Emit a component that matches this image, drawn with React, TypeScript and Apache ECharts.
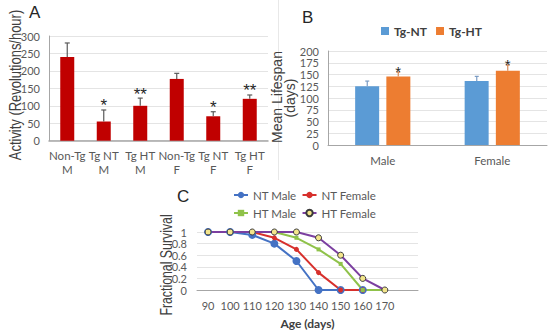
import React, { useEffect, useRef } from "react";
import * as echarts from "echarts";

// Panel A: activity
const activityCats = ["Non-Tg\nM", "Tg NT\nM", "Tg HT\nM", "Non-Tg\nF", "Tg NT\nF", "Tg HT\nF"];
const activityMean = [240, 55, 100, 177, 70, 120];
const activityUpper = [280, 88, 122, 193, 83, 131];
const activityStars = ["", "*", "**", "", "*", "**"];
const activityTicks = [0, 50, 100, 150, 200, 250, 300];

// Panel B: mean lifespan
const lifespanCats = ["Male", "Female"];
const lifespanNT = [125, 136];
const lifespanNTUpper = [136, 146];
const lifespanHT = [146, 158];
const lifespanHTUpper = [155, 170];
const lifespanNTStars = ["", ""];
const lifespanHTStars = ["*", "*"];

// Panel C: survival
const ageCats = ["90", "100", "110", "120", "130", "140", "150", "160", "170", ""];
const ntMale = [1, 1, 0.95, 0.8, 0.5, 0, 0, 0];
const ntFemale = [1, 1, 1, 0.9, 0.7, 0.3, 0, 0];
const htMale = [1, 1, 1, 1, 0.9, 0.7, 0.45, 0, 0];
const htFemale = [1, 1, 1, 1, 1, 0.9, 0.6, 0.2, 0];

const TICK = "#595959";
const GRID = "#e4e4e4";
const AXIS = "#a6a6a6";
const LABEL_FONT = "Lato";
const TITLE_FONT = "Liberation Sans";

function errorSeries(
  xAxisIndex: number,
  yAxisIndex: number,
  means: number[],
  uppers: number[],
  stars: string[],
  offset: number,
  color: string,
  capHalf: number,
  starSize: number,
  starDy: number
) {
  return {
    type: "custom",
    xAxisIndex,
    yAxisIndex,
    z: 5,
    silent: true,
    data: means.map((m, i) => [i, m, uppers[i]]),
    encode: { x: 0, y: [1, 2] },
    renderItem: (params: any, api: any) => {
      const i = api.value(0);
      const p0 = api.coord([i, api.value(1)]);
      const p1 = api.coord([i, api.value(2)]);
      const x = p0[0] + offset;
      const children: any[] = [
        { type: "line", shape: { x1: x, y1: p0[1], x2: x, y2: p1[1] }, style: { stroke: color, lineWidth: 1.2 } },
        { type: "line", shape: { x1: x - capHalf, y1: p1[1], x2: x + capHalf, y2: p1[1] }, style: { stroke: color, lineWidth: 1.2 } },
      ];
      const s = stars[params.dataIndex];
      if (s) {
        children.push({
          type: "text",
          x,
          y: p1[1] + starDy,
          style: {
            text: s,
            textAlign: "center",
            textVerticalAlign: "middle",
            align: "center",
            verticalAlign: "middle",
            font: `${starSize}px "${TITLE_FONT}"`,
            fill: "#262626",
          },
        });
      }
      return { type: "group", children };
    },
  };
}

function vText(text: string, x: number, y: number, size: number, scaleX: number) {
  return {
    type: "text",
    x,
    y,
    rotation: Math.PI / 2,
    scaleX,
    style: {
      text,
      font: `${size}px "${TITLE_FONT}"`,
      fill: "#404040",
      textAlign: "center",
      textVerticalAlign: "middle",
      align: "center",
      verticalAlign: "middle",
    },
  };
}

export default function App() {
  const ref = useRef<HTMLDivElement>(null);

  useEffect(() => {
    document.body.style.margin = "0";
    if (!ref.current) return;
    const chart = echarts.init(ref.current, undefined, { renderer: "svg" });

    const valueAxisBase = (gridIndex: number, max: number, interval: number, margin: number, fontSize: number) => ({
      type: "value",
      gridIndex,
      min: 0,
      max,
      interval,
      axisLine: { show: true, lineStyle: { color: AXIS, width: 1 } },
      axisTick: { show: false },
      axisLabel: {
        color: TICK,
        fontSize,
        lineHeight: 9,
        fontFamily: LABEL_FONT,
        margin,
        showMinLabel: true,
        showMaxLabel: true,
        hideOverlap: false,
      },
      splitLine: { show: true, lineStyle: { color: GRID, width: 1 } },
    });

    const legendC = (names: string[], top: number) => ({
      data: names,
      left: 228,
      top,
      itemWidth: 14,
      itemHeight: 8,
      itemGap: 5,
      textStyle: { color: TICK, fontSize: 11.5, fontFamily: LABEL_FONT },
    });

    const option: any = {
      animation: false,
      backgroundColor: "#ffffff",
      grid: [
        { left: 49, top: 36, width: 219, height: 104.7 },
        { left: 328, top: 51, width: 219, height: 94 },
        { left: 197, top: 232, width: 221, height: 58 },
      ],
      xAxis: [
        {
          type: "category",
          gridIndex: 0,
          data: activityCats,
          axisLine: { lineStyle: { color: AXIS, width: 1.5 } },
          axisTick: { show: false },
          axisLabel: { color: TICK, fontSize: 11.5, fontFamily: LABEL_FONT, lineHeight: 14, margin: 8, interval: 0 },
        },
        {
          type: "category",
          gridIndex: 1,
          data: lifespanCats,
          axisLine: { lineStyle: { color: AXIS, width: 1 } },
          axisTick: { show: false },
          axisLabel: { color: TICK, fontSize: 11.5, fontFamily: LABEL_FONT, margin: 9 },
        },
        {
          type: "category",
          gridIndex: 2,
          data: ageCats,
          boundaryGap: true,
          axisLine: { lineStyle: { color: AXIS, width: 1 } },
          axisTick: { show: false },
          axisLabel: { color: TICK, fontSize: 11, fontFamily: LABEL_FONT, margin: 10, interval: 0 },
          name: "Age (days)",
          nameLocation: "middle",
          nameGap: 27,
          nameTextStyle: { color: "#404040", fontSize: 12, fontWeight: "bold", fontFamily: LABEL_FONT },
        },
      ],
      yAxis: [
        {
          ...valueAxisBase(0, activityTicks[activityTicks.length - 1], activityTicks[1] - activityTicks[0], 9, 11),
        },
        { ...valueAxisBase(1, 200, 25, 9, 11) },
        {
          ...valueAxisBase(2, 1, 0.2, 10, 11),
          axisLine: { show: false },
        },
      ],
      legend: [
        {
          data: ["Tg-NT", "Tg-HT"],
          left: 376,
          top: 20,
          itemWidth: 8,
          itemHeight: 8,
          itemGap: 9,
          icon: "rect",
          textStyle: { color: "#404040", fontSize: 12, fontWeight: "bold", fontFamily: LABEL_FONT },
        },
        legendC(["NT Male", "NT Female"], 184),
        legendC(["HT Male", "HT Female"], 202),
      ],
      graphic: [
        { type: "line", shape: { x1: 278.5, y1: 0, x2: 278.5, y2: 180 }, style: { stroke: "#e8e8e8", lineWidth: 1 } },
        { type: "text", x: 29, y: 4, style: { text: "A", font: `17px "${TITLE_FONT}"`, fill: "#262626" } },
        { type: "text", x: 302, y: 9, style: { text: "B", font: `17px "${TITLE_FONT}"`, fill: "#262626" } },
        { type: "text", x: 177, y: 188, style: { text: "C", font: `17px "${TITLE_FONT}"`, fill: "#262626" } },
        vText("Activity (Revolutions/hour)", 16, 85, 16, 0.81),
        vText("Mean Lifespan", 277, 97, 14, 1),
        vText("(days)", 290, 98, 14, 1),
        vText("Fractional Survival", 166, 265, 16, 0.77),
      ],
      series: [
        {
          type: "bar",
          xAxisIndex: 0,
          yAxisIndex: 0,
          data: activityMean,
          barWidth: 14,
          itemStyle: { color: "#c00000" },
        },
        errorSeries(0, 0, activityMean, activityUpper, activityStars, 0, "#5a5a5a", 2.5, 17, -4),
        {
          name: "Tg-NT",
          type: "bar",
          xAxisIndex: 1,
          yAxisIndex: 1,
          data: lifespanNT,
          barWidth: 24,
          barGap: "30%",
          itemStyle: { color: "#5b9bd5" },
        },
        {
          name: "Tg-HT",
          type: "bar",
          xAxisIndex: 1,
          yAxisIndex: 1,
          data: lifespanHT,
          barWidth: 24,
          barGap: "30%",
          itemStyle: { color: "#ed7d31" },
        },
        errorSeries(1, 1, lifespanNT, lifespanNTUpper, lifespanNTStars, -15.5, "#7b9cc4", 2, 15, -1),
        errorSeries(1, 1, lifespanHT, lifespanHTUpper, lifespanHTStars, 15.5, "#d98a55", 2, 15, -1),
        {
          name: "NT Male",
          type: "line",
          xAxisIndex: 2,
          yAxisIndex: 2,
          data: ntMale,
          symbol: "circle",
          symbolSize: 8,
          lineStyle: { color: "#4472c4", width: 2 },
          itemStyle: { color: "#4472c4" },
        },
        {
          name: "NT Female",
          type: "line",
          xAxisIndex: 2,
          yAxisIndex: 2,
          data: ntFemale,
          symbol: "circle",
          symbolSize: 5,
          lineStyle: { color: "#d7302c", width: 2 },
          itemStyle: { color: "#d7302c" },
        },
        {
          name: "HT Male",
          type: "line",
          xAxisIndex: 2,
          yAxisIndex: 2,
          data: htMale,
          symbol: "rect",
          symbolSize: 4,
          lineStyle: { color: "#8fc24a", width: 2 },
          itemStyle: { color: "#8fc24a" },
        },
        {
          name: "HT Female",
          type: "line",
          xAxisIndex: 2,
          yAxisIndex: 2,
          data: htFemale,
          symbol: "circle",
          symbolSize: 6,
          lineStyle: { color: "#7b3fa0", width: 2 },
          itemStyle: { color: "#f3e58c", borderColor: "#3a3a3a", borderWidth: 1 },
        },
      ],
    };

    chart.setOption(option);
    return () => {
      chart.dispose();
    };
  }, []);

  return <div ref={ref} style={{ width: 550, height: 331 }} />;
}
